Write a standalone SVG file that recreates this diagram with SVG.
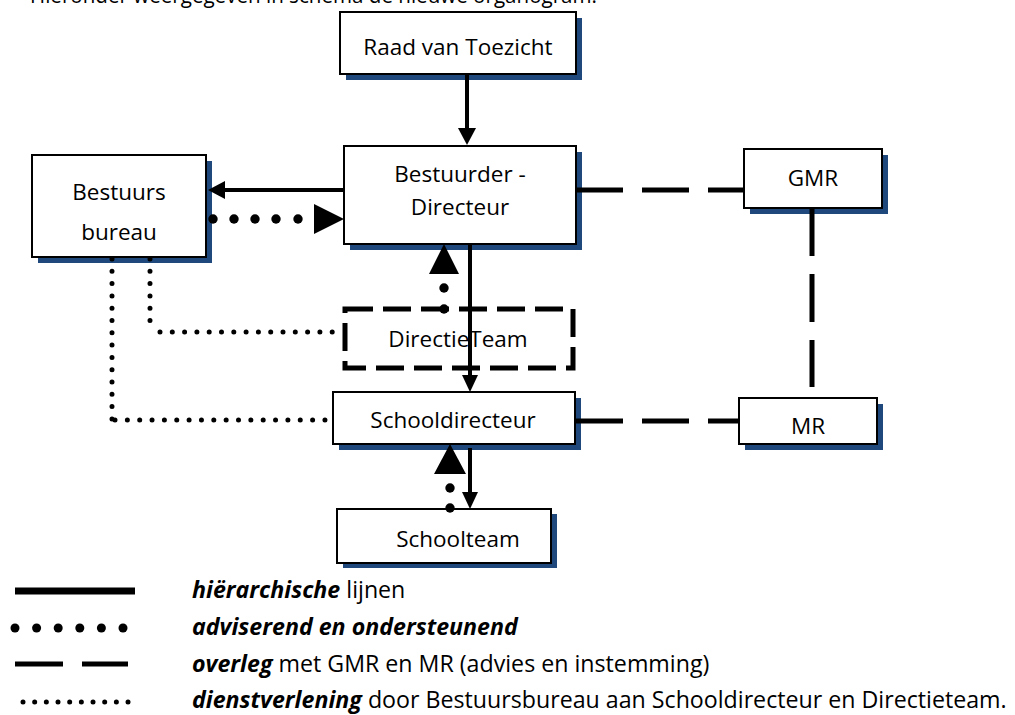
<svg xmlns="http://www.w3.org/2000/svg" width="1015" height="715" viewBox="0 0 1015 715">
  <style>
    text { font-family: "Open Sans", "Liberation Sans", sans-serif; fill: #000; }
    .node { font-size: 22.5px; text-anchor: middle; }
    .legend { font-size: 23.2px; }
    .bi { font-weight: bold; font-style: italic; }
    .box { fill: #fff; stroke: #000; stroke-width: 2; }
    .shadow { fill: #1F497D; }
    .solid { stroke: #000; stroke-width: 4; fill: none; }
    .head { fill: #000; }
    .dash { stroke: #000; stroke-width: 5; fill: none; }
    .sdot { stroke: #000; stroke-width: 5; stroke-linecap: round; fill: none; }
    .bdot { fill: #000; }
  </style>
  <rect width="1015" height="715" fill="#fff"/>

  <text x="30" y="2.5" style="font-size:21px" textLength="567" lengthAdjust="spacingAndGlyphs">Hieronder weergegeven in schema de nieuwe organogram.</text>

  <g id="node-raad">
    <rect class="shadow" x="346" y="18" width="236" height="62"/>
    <rect class="box" x="340" y="12" width="236" height="62"/>
    <text class="node" x="458" y="55">Raad van Toezicht</text>
  </g>

  <g id="node-bestuurder">
    <rect class="shadow" x="350" y="152" width="232" height="98"/>
    <rect class="box" x="344" y="146" width="232" height="98"/>
    <text class="node" x="460" y="182">Bestuurder -</text>
    <text class="node" x="460" y="215">Directeur</text>
  </g>

  <g id="node-bestuursbureau">
    <rect class="shadow" x="38" y="161" width="174" height="102"/>
    <rect class="box" x="32" y="155" width="174" height="102"/>
    <text class="node" x="119" y="200">Bestuurs</text>
    <text class="node" x="119" y="240">bureau</text>
  </g>

  <g id="node-gmr">
    <rect class="shadow" x="750" y="155" width="138" height="59"/>
    <rect class="box" x="744" y="149" width="138" height="59"/>
    <text class="node" x="813" y="186">GMR</text>
  </g>

  <g id="node-directieteam">
    <rect x="345" y="309" width="228" height="59" fill="none" stroke="#000" stroke-width="5" stroke-dasharray="28 10"/>
    <text class="node" x="458" y="347">DirectieTeam</text>
  </g>

  <g id="node-schooldirecteur">
    <rect class="shadow" x="339" y="398" width="242" height="52"/>
    <rect class="box" x="333" y="392" width="242" height="52"/>
    <text class="node" x="453" y="428">Schooldirecteur</text>
  </g>

  <g id="node-mr">
    <rect class="shadow" x="745" y="404" width="138" height="46"/>
    <rect class="box" x="739" y="398" width="138" height="46"/>
    <text class="node" x="808" y="434">MR</text>
  </g>

  <g id="node-schoolteam">
    <rect class="shadow" x="343" y="514" width="214" height="54"/>
    <rect class="box" x="337" y="509" width="214" height="54"/>
    <text class="node" x="458" y="547">Schoolteam</text>
  </g>

  <g id="connectors">
    <!-- hierarchical -->
    <line class="solid" x1="467" y1="74" x2="467" y2="129"/>
    <polygon class="head" points="458,128 476,128 467,145"/>

    <line class="solid" x1="344" y1="190" x2="224" y2="190"/>
    <polygon class="head" points="225,181 225,199 208,190"/>

    <line class="solid" x1="470" y1="244" x2="470" y2="376"/>
    <polygon class="head" points="462,375 478,375 470,392"/>

    <line class="solid" x1="470" y1="448" x2="470" y2="494"/>
    <polygon class="head" points="462,492 478,492 470,509"/>

    <!-- advisory -->
    <circle class="bdot" cx="213" cy="219" r="4.7"/>
    <circle class="bdot" cx="234" cy="219" r="4.7"/>
    <circle class="bdot" cx="255" cy="219" r="4.7"/>
    <circle class="bdot" cx="276" cy="219" r="4.7"/>
    <circle class="bdot" cx="298" cy="219" r="4.7"/>
    <polygon class="head" points="314,204 314,234 344,219"/>

    <circle class="bdot" cx="444" cy="309" r="4.7"/>
    <circle class="bdot" cx="444" cy="288" r="4.7"/>
    <polygon class="head" points="429,274 459,274 444,244"/>

    <circle class="bdot" cx="450" cy="508" r="4.7"/>
    <circle class="bdot" cx="450" cy="488" r="4.7"/>
    <polygon class="head" points="434,474 466,474 450,444"/>

    <!-- overleg -->
    <line class="dash" x1="576" y1="190" x2="744" y2="190" stroke-dasharray="47 19"/>
    <line class="dash" x1="812" y1="208" x2="812" y2="387" stroke-dasharray="48 18"/>
    <line class="dash" x1="576" y1="421" x2="739" y2="421" stroke-dasharray="47 19"/>

    <!-- dienstverlening -->
    <line class="sdot" x1="150" y1="259" x2="150" y2="321.5" stroke-dasharray="0 12.3"/>
    <line class="sdot" x1="160" y1="332" x2="332.2" y2="332" stroke-dasharray="0 12.3"/>
    <line class="sdot" x1="112" y1="259" x2="112" y2="419" stroke-dasharray="0 12.3"/>
    <line class="sdot" x1="115" y1="420" x2="325" y2="420" stroke-dasharray="0 12.35"/>
  </g>

  <g id="legend">
    <line x1="15" y1="591" x2="135" y2="591" stroke="#000" stroke-width="7"/>
    <circle class="bdot" cx="15" cy="628" r="4.5"/>
    <circle class="bdot" cx="36.6" cy="628" r="4.5"/>
    <circle class="bdot" cx="58.2" cy="628" r="4.5"/>
    <circle class="bdot" cx="79.8" cy="628" r="4.5"/>
    <circle class="bdot" cx="101.4" cy="628" r="4.5"/>
    <circle class="bdot" cx="123" cy="628" r="4.5"/>
    <line x1="15" y1="664" x2="63" y2="664" stroke="#000" stroke-width="5"/>
    <line x1="82" y1="664" x2="128" y2="664" stroke="#000" stroke-width="5"/>
    <line class="sdot" x1="23" y1="702" x2="128.1" y2="702" stroke-dasharray="0 11.67" stroke-width="4.5"/>

    <text class="legend" x="192" y="598"><tspan class="bi">hiërarchische</tspan> lijnen</text>
    <text class="legend" x="192" y="635"><tspan class="bi">adviserend en ondersteunend</tspan></text>
    <text class="legend" x="192" y="672"><tspan class="bi">overleg</tspan> met GMR en MR (advies en instemming)</text>
    <text class="legend" x="192" y="708"><tspan class="bi">dienstverlening</tspan> door Bestuursbureau aan Schooldirecteur en Directieteam.</text>
  </g>
</svg>
